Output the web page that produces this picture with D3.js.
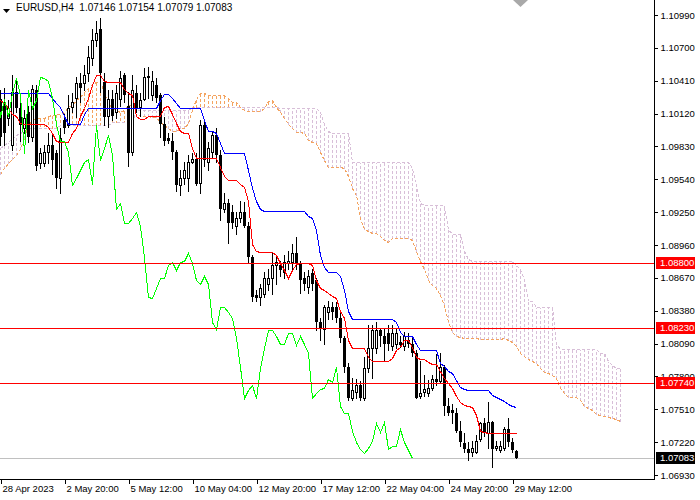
<!DOCTYPE html>
<html>
<head>
<meta charset="utf-8">
<script src="https://cdn.jsdelivr.net/npm/d3@7"></script>
<style>
  html, body { margin: 0; padding: 0; background: #fff; }
  svg { display: block; }
  text { font-family: "Liberation Sans", Arial, sans-serif; }
</style>
</head>
<body>
<svg id="chart" width="700" height="500"></svg>
<script>
// EURUSD H4, 28 Apr - 29 May 2023, one entry per bar
var opens = [
  1.1025,1.1019,1.1008,1.0984,1.1031,1.1017,1.0999,1.1013,1.0991,1.1033,
  1.0968,1.0968,1.0978,1.0984,1.0977,1.0955,1.1006,1.1002,1.1018,1.1026,
  1.1039,1.1039,1.1048,1.1061,1.1077,1.1087,1.1040,1.1010,1.1025,1.1013,
  1.1025,1.1046,1.1019,1.0978,1.1030,1.1018,1.1025,1.1045,1.1028,1.1037,
  1.1028,1.1003,1.0990,1.0988,1.0978,1.0949,1.0955,1.0955,1.0969,1.0972,
  1.0951,1.1002,1.0969,1.0978,1.0993,1.0975,1.0928,1.0933,1.0925,1.0913,
  1.0920,1.0925,1.0913,1.0885,1.0852,1.0850,1.0853,1.0862,1.0867,1.0878,
  1.0878,1.0872,1.0880,1.0881,1.0889,1.0880,1.0867,1.0859,1.0871,1.0865,
  1.0828,1.0822,1.0837,1.0841,1.0841,1.0832,1.0814,1.0788,1.0761,1.0766,
  1.0772,1.0761,1.0787,1.0805,1.0805,1.0821,1.0816,1.0818,1.0807,1.0809,
  1.0810,1.0807,1.0812,1.0809,1.0801,1.0763,1.0766,1.0765,1.0770,1.0778,
  1.0776,1.0788,1.0754,1.0750,1.0748,1.0732,1.0721,1.0716,1.0713,1.0713,
  1.0725,1.0739,1.0730,1.0740,1.0717,1.0715,1.0717,1.0734,1.0722,1.07146
];
var highs = [
  1.1033,1.1035,1.1024,1.1046,1.1041,1.1028,1.1015,1.1019,1.1037,1.1037,
  1.0982,1.0984,1.0995,1.0995,1.0980,1.0999,1.1012,1.1028,1.1030,1.1044,
  1.1048,1.1055,1.1072,1.1087,1.1094,1.1096,1.1048,1.1033,1.1033,1.1037,
  1.1050,1.1048,1.1031,1.1046,1.1037,1.1030,1.1052,1.1053,1.1050,1.1043,
  1.1030,1.1009,1.0995,1.0995,1.0980,1.0962,1.0969,1.0975,1.0977,1.0977,
  1.1006,1.1006,1.0987,1.0997,1.0999,1.0980,1.0942,1.0937,1.0931,1.0925,
  1.0935,1.0934,1.0916,1.0887,1.0856,1.0862,1.0872,1.0875,1.0889,1.0885,
  1.0882,1.0887,1.0891,1.0897,1.0903,1.0882,1.0872,1.0874,1.0875,1.0867,
  1.0832,1.0843,1.0847,1.0846,1.0846,1.0837,1.0816,1.0792,1.0779,1.0778,
  1.0776,1.0797,1.0825,1.0825,1.0828,1.0823,1.0823,1.0825,1.0825,1.0823,
  1.0816,1.0819,1.0818,1.0814,1.0803,1.0794,1.0781,1.0777,1.0781,1.0800,
  1.0801,1.0790,1.0761,1.0756,1.0752,1.0741,1.0730,1.0722,1.0723,1.0728,
  1.0740,1.0743,1.0757,1.0741,1.0723,1.0723,1.0735,1.0743,1.0726,1.07154
];
var lows = [
  1.0984,1.0984,1.1002,1.0980,1.1013,1.0988,1.0995,1.0987,1.0988,1.0962,
  1.0964,1.0966,1.0968,1.0959,1.0946,1.0942,1.0995,1.1000,1.1013,1.1009,
  1.1022,1.1033,1.1041,1.1055,1.1072,1.1031,1.1002,1.1000,1.1006,1.1008,
  1.1019,1.1022,1.0966,1.0975,1.1013,1.1010,1.1024,1.1026,1.1024,1.1022,
  1.0991,1.0984,1.0986,1.0972,1.0944,1.0940,1.0950,1.0944,1.0968,1.0949,
  1.0942,1.0966,1.0962,1.0973,1.0969,1.0918,1.0925,1.0898,1.0911,1.0906,
  1.0916,1.0912,1.0881,1.0847,1.0847,1.0843,1.0850,1.0856,1.0853,1.0862,
  1.0869,1.0867,1.0875,1.0875,1.0875,1.0854,1.0856,1.0854,1.0856,1.0821,
  1.0812,1.0809,1.0831,1.0831,1.0828,1.0810,1.0784,1.0759,1.0759,1.0761,
  1.0759,1.0759,1.0784,1.0779,1.0801,1.0807,1.0794,1.0803,1.0803,1.0805,
  1.0806,1.0803,1.0806,1.0798,1.0761,1.0761,1.0763,1.0763,1.0768,1.0772,
  1.0774,1.0746,1.0746,1.0739,1.0731,1.0719,1.0713,1.0706,1.0710,1.0712,
  1.0723,1.0727,1.0717,1.0700,1.0715,1.0713,1.0715,1.0719,1.0713,1.07079
];
var closes = [
  1.0991,1.0995,1.1017,1.1031,1.1017,1.1002,1.1008,1.0991,1.1034,1.0966,
  1.0977,1.0978,1.0984,1.0971,1.0955,1.0990,1.0999,1.1017,1.1022,1.1039,
  1.1035,1.1046,1.1062,1.1077,1.1083,1.1048,1.1009,1.1025,1.1010,1.1030,
  1.1043,1.1028,1.0977,1.1033,1.1017,1.1024,1.1044,1.1043,1.1041,1.1026,
  1.1003,1.0988,1.0988,1.0978,1.0949,1.0955,1.0962,1.0969,1.0972,1.0950,
  1.1002,1.0971,1.0982,1.0993,1.0975,1.0928,1.0933,1.0915,1.0915,1.0920,
  1.0925,1.0913,1.0885,1.0850,1.0849,1.0858,1.0867,1.0867,1.0878,1.0881,
  1.0874,1.0881,1.0882,1.0889,1.0880,1.0865,1.0862,1.0869,1.0862,1.0828,
  1.0822,1.0841,1.0841,1.0837,1.0832,1.0814,1.0788,1.0761,1.0768,1.0772,
  1.0761,1.0787,1.0805,1.0821,1.0821,1.0816,1.0809,1.0809,1.0818,1.0818,
  1.0808,1.0816,1.0809,1.0801,1.0761,1.0765,1.0769,1.0770,1.0778,1.0775,
  1.0788,1.0754,1.0748,1.0748,1.0732,1.0722,1.0716,1.0712,1.0717,1.0723,
  1.0739,1.0731,1.0740,1.0716,1.0719,1.0719,1.0734,1.0722,1.0715,1.07083
];

// Ichimoku lines as they appear on the chart
var tenkan = [
  1.1024,1.1021,1.1017,1.1012,1.1010,1.1004,1.1003,1.1003,1.1003,1.1003,
  1.1003,1.1003,1.1000,1.0995,1.0988,1.0987,1.0987,1.0987,1.0995,1.0999,
  1.1010,1.1017,1.1026,1.1037,1.1046,1.1046,1.1041,1.1040,1.1040,1.1040,
  1.1040,1.1034,1.1030,1.1028,1.1010,1.1007,1.1007,1.1010,1.1010,1.1010,
  1.1010,1.1018,1.1019,1.1012,1.1004,1.0997,1.0995,1.0995,1.0982,1.0973,
  1.0973,1.0973,1.0973,1.0973,1.0973,1.0965,1.0957,1.0953,1.0953,1.0953,
  1.0950,1.0947,1.0935,1.0897,1.0891,1.0890,1.0890,1.0890,1.0890,1.0887,
  1.0880,1.0874,1.0867,1.0874,1.0879,1.0880,1.0880,1.0880,1.0878,1.0865,
  1.0858,1.0856,1.0854,1.0851,1.0849,1.0838,1.0832,1.0812,1.0805,1.0805,
  1.0805,1.0805,1.0797,1.0794,1.0794,1.0794,1.0794,1.0794,1.0796,1.0803,
  1.0806,1.0812,1.0812,1.0806,1.0797,1.0795,1.0795,1.0793,1.0791,1.0791,
  1.0785,1.0779,1.0774,1.0770,1.0763,1.0757,1.0755,1.0754,1.0753,1.0746,
  1.0732,1.0731,1.0730,1.0730,1.0730,1.0730,1.0730,1.0730,1.0730,1.0730
];
var kijun = [
  1.1030,1.1030,1.1030,1.1030,1.1030,1.1030,1.1030,1.1030,1.1030,1.1030,
  1.1030,1.1030,1.1030,1.1026,1.1021,1.1018,1.1010,1.1003,1.1003,1.1003,
  1.1003,1.1012,1.1017,1.1017,1.1017,1.1017,1.1017,1.1017,1.1017,1.1017,
  1.1017,1.1017,1.1017,1.1017,1.1017,1.1017,1.1017,1.1017,1.1017,1.1017,
  1.1024,1.1029,1.1029,1.1026,1.1021,1.1017,1.1017,1.1017,1.1017,1.1017,
  1.1017,1.1006,1.0997,1.0997,1.0995,1.0986,1.0977,1.0977,1.0977,1.0977,
  1.0977,1.0977,1.0962,1.0946,1.0935,1.0928,1.0926,1.0926,1.0926,1.0926,
  1.0926,1.0926,1.0926,1.0926,1.0926,1.0926,1.0926,1.0922,1.0920,1.0909,
  1.0887,1.0877,1.0872,1.0872,1.0872,1.0869,1.0856,1.0838,1.0831,1.0831,
  1.0831,1.0831,1.0831,1.0831,1.0831,1.0831,1.0831,1.0831,1.0831,1.0828,
  1.0819,1.0816,1.0816,1.0816,1.0809,1.0803,1.0803,1.0803,1.0803,1.0803,
  1.0792,1.0789,1.0785,1.0783,1.0777,1.0771,1.0769,1.0768,1.0768,1.0768,
  1.0768,1.0768,1.0768,1.0764,1.0762,1.0760,1.0758,1.0756,1.0754,1.0753
];
// Senkou spans run 26 bars past the last candle
var senkouA = [
  1.0959,1.0964,1.0968,1.0972,1.0975,1.0981,1.0990,1.1002,1.1006,1.1008,
  1.1008,1.1008,1.1010,1.1011,1.1012,1.1012,1.1013,1.1018,1.1020,1.1024,
  1.1027,1.1031,1.1035,1.1038,1.1040,1.1040,1.1031,1.1021,1.1017,1.1015,
  1.1013,1.1015,1.1020,1.1020,1.1013,1.1010,1.1010,1.1010,1.1009,1.1009,
  1.1005,1.1002,1.0999,1.0997,1.0997,1.0999,1.0999,1.1004,1.1015,1.1025,
  1.1030,1.1030,1.1028,1.1028,1.1028,1.1028,1.1028,1.1026,1.1022,1.1022,
  1.1018,1.1015,1.1014,1.1014,1.1014,1.1014,1.1017,1.1023,1.1024,1.1018,
  1.1013,1.1008,1.1003,1.0999,1.0996,1.0996,1.0995,1.0989,1.0987,1.0986,
  1.0978,1.0971,1.0965,1.0965,1.0965,1.0965,1.0964,1.0957,1.0946,1.0940,
  1.0920,1.0910,1.0908,1.0907,1.0907,1.0904,1.0900,1.0899,1.0902,1.0902,
  1.0902,1.0902,1.0902,1.0900,1.0891,1.0882,1.0875,1.0865,1.0861,1.0858,
  1.0852,1.0843,1.0828,1.0819,1.0816,1.0815,1.0814,1.0814,1.0814,1.0814,
  1.0813,1.0813,1.0813,1.0813,1.0813,1.0813,1.0814,1.0812,1.0810,1.0807,
  1.0801,1.0798,1.0795,1.0794,1.0792,1.0787,1.0784,1.0783,1.0781,1.0779,
  1.0770,1.0765,1.0762,1.0762,1.0762,1.0759,1.0754,1.0752,1.0750,1.0747,
  1.0746,1.0745,1.0744,1.0743,1.0742,1.0741
];
var senkouB = [
  1.0982,1.0984,1.0987,1.0990,1.0993,1.0995,1.0997,1.0999,1.0999,1.0999,
  1.0999,1.0999,1.0999,1.0999,1.0999,1.1002,1.1002,1.1002,1.1002,1.1002,
  1.1002,1.1002,1.1002,1.1002,1.1002,1.1002,1.1002,1.1002,1.1005,1.1005,
  1.1005,1.1005,1.1005,1.1005,1.1015,1.1015,1.1015,1.1015,1.1015,1.1015,
  1.1015,1.1015,1.1015,1.1015,1.1015,1.1015,1.1015,1.1015,1.1018,1.1018,
  1.1018,1.1018,1.1018,1.1018,1.1018,1.1018,1.1018,1.1018,1.1018,1.1018,
  1.1018,1.1018,1.1018,1.1018,1.1018,1.1018,1.1018,1.1018,1.1018,1.1018,
  1.1017,1.1017,1.1017,1.1017,1.1017,1.1017,1.1017,1.1017,1.1017,1.1017,
  1.1013,1.1003,1.0997,1.0995,1.0995,1.0995,1.0995,1.0995,1.0969,1.0969,
  1.0969,1.0969,1.0969,1.0969,1.0969,1.0969,1.0969,1.0969,1.0969,1.0969,
  1.0969,1.0969,1.0969,1.0964,1.0948,1.0933,1.0931,1.0931,1.0931,1.0931,
  1.0931,1.0931,1.0910,1.0906,1.0906,1.0906,1.0891,1.0884,1.0882,1.0882,
  1.0882,1.0882,1.0882,1.0882,1.0882,1.0882,1.0882,1.0882,1.0882,1.0878,
  1.0875,1.0865,1.0847,1.0847,1.0841,1.0841,1.0841,1.0841,1.0841,1.0809,
  1.0804,1.0804,1.0804,1.0804,1.0804,1.0804,1.0804,1.0804,1.0804,1.0804,
  1.0801,1.0801,1.0794,1.0790,1.0787,1.0787
];

var priceTicks = [1.10990,1.10700,1.10410,1.10120,1.09830,1.09540,1.09250,1.08960,
                  1.08670,1.08380,1.08090,1.07800,1.07510,1.07220,1.06930];
var timeTickBars = [0, 16, 32, 48, 64, 80, 96, 112, 128];
var timeTickLabels = ['28 Apr 2023','2 May 20:00','5 May 12:00','10 May 04:00','12 May 20:00',
                      '17 May 12:00','22 May 04:00','24 May 20:00','29 May 12:00'];
var levelLines = [1.08800, 1.08230, 1.07740];
var bidPrice = 1.07083;
var headerText = 'EURUSD,H4  1.07146 1.07154 1.07079 1.07083';

var chikouShift = 26;
var plotW = 654, plotH = 479;

var svg = d3.select('#chart');

var x = d3.scaleLinear().domain([0, 155]).range([0, 620]);
var y = d3.scaleLinear().domain([1.06930, 1.10990]).range([475, 15]);

svg.append('defs').append('clipPath').attr('id', 'plotClip')
  .append('rect').attr('x', 0).attr('y', 0).attr('width', plotW).attr('height', plotH);

var plot = svg.append('g')
  .attr('clip-path', 'url(#plotClip)')
  .style('shape-rendering', 'crispEdges');

function py(v) { return Math.round(y(v)) + 0.5; }

// bid line
plot.append('line')
  .attr('x1', 0).attr('x2', plotW)
  .attr('y1', py(bidPrice)).attr('y2', py(bidPrice))
  .attr('stroke', '#c0c0c0');

// kumo hatch, one dotted stroke per bar
plot.append('g').selectAll('line').data(senkouA).enter().append('line')
  .attr('x1', function (d, i) { return x(i) + 0.5; })
  .attr('x2', function (d, i) { return x(i) + 0.5; })
  .attr('y1', function (d) { return py(d); })
  .attr('y2', function (d, i) { return py(senkouB[i]); })
  .attr('stroke', function (d, i) { return d >= senkouB[i] ? '#f4a460' : '#d8bfd8'; })
  .attr('stroke-dasharray', '3,2');

var line = d3.line()
  .x(function (d) { return x(d[0]) + 0.5; })
  .y(function (d) { return py(d[1]); });

function drawLine(values, color, dash) {
  var p = plot.append('path')
    .datum(values.map(function (v, i) { return [i, v]; }))
    .attr('d', line)
    .attr('fill', 'none')
    .attr('stroke', color)
    .attr('stroke-width', 1);
  if (dash) p.attr('stroke-dasharray', dash);
  return p;
}

drawLine(senkouB, '#d8bfd8', '3,2');
drawLine(senkouA, '#f4a460', '3,2');

// candles
var candles = plot.append('g').selectAll('g').data(opens).enter().append('g');

candles.append('line')
  .attr('x1', function (d, i) { return x(i) + 0.5; })
  .attr('x2', function (d, i) { return x(i) + 0.5; })
  .attr('y1', function (d, i) { return Math.round(y(highs[i])); })
  .attr('y2', function (d, i) { return Math.round(y(lows[i])) + 1; })
  .attr('stroke', '#000');

candles.append('rect')
  .attr('x', function (d, i) { return closes[i] > d ? x(i) - 0.5 : x(i) - 1; })
  .attr('y', function (d, i) {
    var top = Math.round(y(Math.max(d, closes[i])));
    return closes[i] > d ? top + 0.5 : top;
  })
  .attr('width', function (d, i) { return closes[i] > d ? 2 : 3; })
  .attr('height', function (d, i) {
    var h = Math.round(y(Math.min(d, closes[i]))) - Math.round(y(Math.max(d, closes[i])));
    return closes[i] > d ? Math.max(h, 1) : Math.max(h, 1);
  })
  .attr('fill', function (d, i) { return closes[i] > d ? '#fff' : '#000'; })
  .attr('stroke', function (d, i) { return closes[i] > d ? '#000' : 'none'; });

// tenkan, kijun, chikou
drawLine(tenkan, '#ff0000');
drawLine(kijun, '#0000ff');

plot.append('path')
  .datum(closes.map(function (c, i) { return [i - chikouShift, c]; })
    .filter(function (d) { return d[0] >= -1; }))
  .attr('d', line)
  .attr('fill', 'none')
  .attr('stroke', '#00ff00');

// horizontal level objects
plot.append('g').selectAll('line').data(levelLines).enter().append('line')
  .attr('x1', 0).attr('x2', plotW)
  .attr('y1', function (d) { return py(d); })
  .attr('y2', function (d) { return py(d); })
  .attr('stroke', '#ff0000');

// price axis
var yAxis = d3.axisRight(y)
  .tickValues(priceTicks)
  .tickFormat(d3.format('.5f'))
  .tickSize(3)
  .tickPadding(3);

var gy = svg.append('g')
  .attr('transform', 'translate(' + (plotW + 0.5) + ',0)')
  .style('shape-rendering', 'crispEdges')
  .call(yAxis);
gy.select('.domain').remove();
gy.selectAll('.tick line').attr('stroke', '#000');
gy.selectAll('.tick text')
  .attr('fill', '#000')
  .style('font-size', '9.5px')
  .style('font-family', '"Liberation Sans", Arial, sans-serif');

// time axis
var xAxis = d3.axisBottom(x)
  .tickValues(timeTickBars)
  .tickFormat(function (d, i) { return timeTickLabels[i]; })
  .tickSize(4);

var gx = svg.append('g')
  .attr('transform', 'translate(0,' + (plotH + 0.5) + ')')
  .style('shape-rendering', 'crispEdges')
  .call(xAxis);
gx.select('.domain').remove();
gx.selectAll('.tick line').attr('stroke', '#000').attr('transform', 'translate(0.5,0)');
gx.selectAll('.tick text')
  .attr('fill', '#000')
  .attr('text-anchor', 'start')
  .attr('x', 2)
  .attr('y', 12.5)
  .attr('dy', 0)
  .style('font-size', '9.5px')
  .style('font-family', '"Liberation Sans", Arial, sans-serif');

// frame lines
svg.append('line')
  .attr('x1', plotW + 0.5).attr('x2', plotW + 0.5)
  .attr('y1', 0).attr('y2', plotH + 1)
  .attr('stroke', '#000').style('shape-rendering', 'crispEdges');
svg.append('line')
  .attr('x1', 0).attr('x2', plotW + 1)
  .attr('y1', plotH + 0.5).attr('y2', plotH + 0.5)
  .attr('stroke', '#000').style('shape-rendering', 'crispEdges');

// price tags for the level lines and the bid
var tags = levelLines.map(function (v) { return { v: v, bg: '#ff0000' }; })
  .concat([{ v: bidPrice, bg: '#000000' }]);

var tag = svg.append('g').selectAll('g').data(tags).enter().append('g')
  .attr('transform', function (d) { return 'translate(656,' + Math.round(y(d.v)) + ')'; });
tag.append('rect')
  .attr('x', 0).attr('y', -6).attr('width', 39).attr('height', 12)
  .attr('fill', function (d) { return d.bg; })
  .style('shape-rendering', 'crispEdges');
tag.append('text')
  .attr('x', 4).attr('y', 0).attr('dy', '0.35em')
  .attr('fill', '#fff')
  .style('font-size', '9.5px')
  .text(function (d) { return d.v.toFixed(5); });

// header
svg.append('path')
  .attr('d', 'M3,9 L10,9 L6.5,13 Z')
  .attr('fill', '#000');
svg.append('text')
  .attr('x', 16).attr('y', 11)
  .style('font-size', '10px')
  .style('white-space', 'pre')
  .attr('fill', '#000')
  .text(headerText);

// chart shift marker
svg.append('path')
  .attr('d', 'M513,0 L528,0 L520.5,7 Z')
  .attr('fill', '#a9a9a9');
</script>
</body>
</html>
